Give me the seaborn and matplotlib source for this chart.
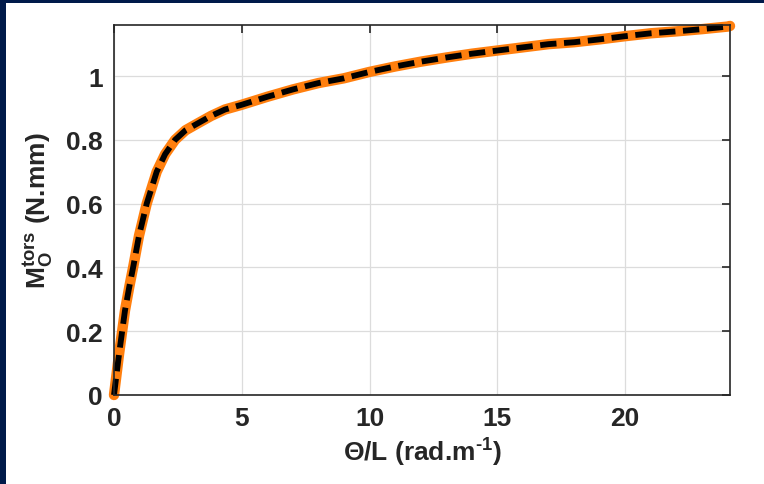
import matplotlib
matplotlib.use("Agg")
import matplotlib.pyplot as plt
import seaborn as sns
import pandas as pd

theta_L = [0, 0.2, 0.43, 0.6, 0.76, 0.98, 1.28, 1.67, 2.0, 2.39, 2.8, 3.24, 3.8,
           4.34, 5, 6, 7, 8, 9, 10, 11, 12, 13, 14, 15, 16, 17, 18, 19, 20, 21,
           22, 23, 24, 24.1]
moment = [0, 0.13, 0.265, 0.34, 0.405, 0.5, 0.6, 0.7, 0.755, 0.8, 0.83, 0.85, 0.875,
          0.895, 0.91, 0.935, 0.958, 0.978, 0.993, 1.013, 1.03, 1.045, 1.058,
          1.07, 1.08, 1.09, 1.1, 1.106, 1.115, 1.125, 1.134, 1.14, 1.147, 1.155,
          1.157]
xticks = [0, 5, 10, 15, 20]
yticks = [0, 0.2, 0.4, 0.6, 0.8, 1]
ytick_labels = ["0", "0.2", "0.4", "0.6", "0.8", "1"]

df = pd.DataFrame({"x": theta_L, "y": moment})

sns.set_theme(style="white")
plt.rcParams["font.family"] = ["Liberation Sans", "DejaVu Sans"]
plt.rcParams["mathtext.fontset"] = "custom"
plt.rcParams["mathtext.rm"] = "Liberation Sans:bold"
plt.rcParams["mathtext.bf"] = "Liberation Sans:bold"
plt.rcParams["mathtext.it"] = "Liberation Sans:bold"

fig = plt.figure(figsize=(7.64, 4.85), dpi=100)
fig.patch.set_facecolor("#001a4a")
bg = fig.add_axes([6 / 764, 0, 1 - 6 / 764, 1 - 4 / 485])
bg.set_facecolor("white")
bg.set_xticks([]); bg.set_yticks([])
for s in bg.spines.values():
    s.set_visible(False)

ax = fig.add_axes([114 / 764, 1 - 396 / 485, (730 - 114) / 764, (396 - 26) / 485])
ax.set_facecolor("white")

sns.lineplot(data=df, x="x", y="y", ax=ax, color="#ff7f0e", linewidth=7.5,
             estimator=None, sort=False)
sns.lineplot(data=df, x="x", y="y", ax=ax, color="black", linewidth=4.2,
             estimator=None, sort=False)
orange, black = ax.lines[0], ax.lines[1]
orange.set_solid_capstyle("round")
orange.set_solid_joinstyle("round")
black.set_dashes((2.8, 1.3))
for ln in (orange, black):
    ln.set_clip_on(False)

ax.set_xlim(0, 24.1)
ax.set_ylim(0, 1.16)
ax.set_xticks(xticks)
ax.set_yticks(yticks)
ax.set_yticklabels(ytick_labels)
ax.grid(True, color="#dcdcdc", linewidth=0.9)
ax.set_axisbelow(True)
for s in ax.spines.values():
    s.set_visible(True)
    s.set_color("#262626")
    s.set_linewidth(1.2)
ax.tick_params(direction="in", length=6, width=1.2, colors="#262626",
               labelsize=19, pad=8, top=True, right=True, labeltop=False, labelright=False)
for lab in ax.get_xticklabels() + ax.get_yticklabels():
    lab.set_fontweight("bold")
    lab.set_color("#262626")

ax.set_xlabel(r"$\Theta$/L (rad.m$^{\text{-}1}$)", fontsize=19, fontweight="bold",
              color="#262626", labelpad=4)
ax.set_ylabel(r"$\mathbf{M_O^{tors}}$ (N.mm)", fontsize=19, fontweight="bold",
              color="#262626", labelpad=8)

fig.savefig("out.png", dpi=100, facecolor=fig.get_facecolor())
